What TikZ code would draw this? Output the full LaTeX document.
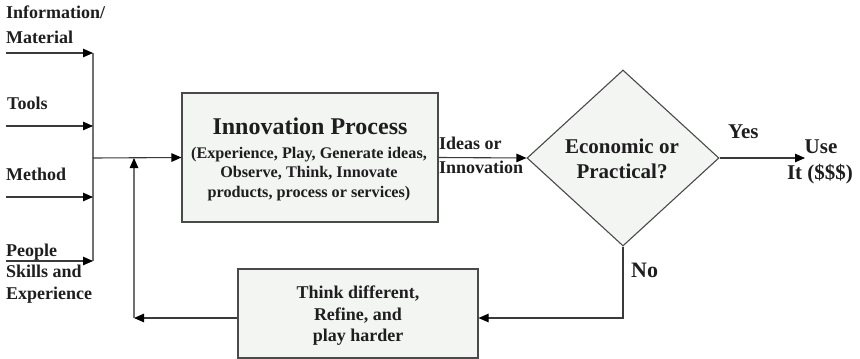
\documentclass[tikz,border=0pt]{standalone}
\usepackage{fontspec}
\setmainfont{Liberation Serif}
\usetikzlibrary{arrows.meta,shapes.geometric}
\definecolor{ln}{HTML}{3A3A3A}
\definecolor{barc}{HTML}{707070}
\definecolor{boxfill}{HTML}{F3F5F3}
\definecolor{boxline}{HTML}{4A4A4A}
\definecolor{txt}{HTML}{1E1E1E}
\begin{document}
\begin{tikzpicture}[x=1pt,y=-1pt,
  lbl/.style={font=\bfseries\fontsize{18}{22}\selectfont, text=txt, inner sep=0pt, anchor=base west},
  clbl/.style={lbl, anchor=base},
  big/.style={font=\bfseries\fontsize{21}{25}\selectfont},
  arr/.style={draw=ln, line width=1.1pt, -{Triangle[length=10pt,width=8.5pt,color=black]}},
  barline/.style={draw=barc, line width=1.4pt},
  procbox/.style={draw=boxline, fill=boxfill, line width=1.1pt, inner sep=0pt},
]
\useasboundingbox (0,0) rectangle (860,359);

% boxes
\node[procbox, minimum width=256pt, minimum height=129pt] (proc) at (310,157.5) {};
\node[procbox, diamond, minimum width=192pt, minimum height=176pt] (dia) at (623,158) {};
\node[procbox, minimum width=240pt, minimum height=89pt] (fb) at (358,313.5) {};

% left inputs
\coordinate (s1) at (6,53);   \coordinate (j1) at (93,53);
\coordinate (s2) at (6,126);  \coordinate (j2) at (93,126);
\coordinate (s3) at (6,197);  \coordinate (j3) at (93,197);
\coordinate (s4) at (6,261);  \coordinate (j4) at (93,261);
\coordinate (jm) at (93,158);
\draw[barline] (j1) -- (j4);
\draw[arr] (s1) -- (j1);
\draw[arr] (s2) -- (j2);
\draw[arr] (s3) -- (j3);
\draw[arr] (s4) -- (j4);
\draw[arr] (jm) -- (proc.west);

\node[lbl] (l1a) at (6,18) {Information/};
\node[lbl] (l1b) at (6,43) {Material};
\node[lbl] (l2) at (7,109) {Tools};
\node[lbl] (l3) at (6,180) {Method};
\node[lbl] (l4a) at (6,256) {People};
\node[lbl] (l4b) at (6,277) {Skills and};
\node[lbl] (l4c) at (6,299) {Experience};

% process text
\node[clbl, font=\bfseries\fontsize{24}{28}\selectfont] (pt) at (310,134) {Innovation Process};
\node[clbl, font=\bfseries\fontsize{16.2}{20}\selectfont] (p1) at (309,158) {(Experience, Play, Generate ideas,};
\node[clbl, font=\bfseries\fontsize{16.2}{20}\selectfont] (p2) at (309,177) {Observe, Think, Innovate};
\node[clbl, font=\bfseries\fontsize{16.2}{20}\selectfont] (p3) at (309,197) {products, process or services)};

% process -> decision
\draw[arr] (proc.east) -- (dia.west);
\node[lbl] (ia) at (439,149) {Ideas or};
\node[lbl] (ib) at (439,173) {Innovation};

% decision text
\node[clbl, big] (d1) at (622,153) {Economic or};
\node[clbl, big] (d2) at (622,178) {Practical?};

% yes branch
\coordinate (use) at (805,158);
\draw[arr] (dia.east) -- (use);
\node[lbl, big] (yes) at (728,138) {Yes};
\node[clbl, big] (u1) at (821,153) {Use};
\node[clbl, big] (u2) at (820,179) {It (\$\$\$)};

% no branch
\coordinate (nc) at (623,318);
\draw[arr] (dia.south) -- (nc) -- (nc -| fb.east);
\node[lbl, font=\bfseries\fontsize{22}{26}\selectfont] (no) at (631,277) {No};

% feedback text
\node[clbl] (f1) at (358,298) {Think different,};
\node[clbl] (f2) at (358,320) {Refine, and};
\node[clbl] (f3) at (358,341) {play harder};

% feedback loop
\coordinate (fc) at (134,318);
\coordinate (ft) at (134,158);
\draw[arr] (fb.west |- nc) -- (fc);
\draw[arr, draw=barc] (fc) -- (ft);
\end{tikzpicture}
\end{document}
